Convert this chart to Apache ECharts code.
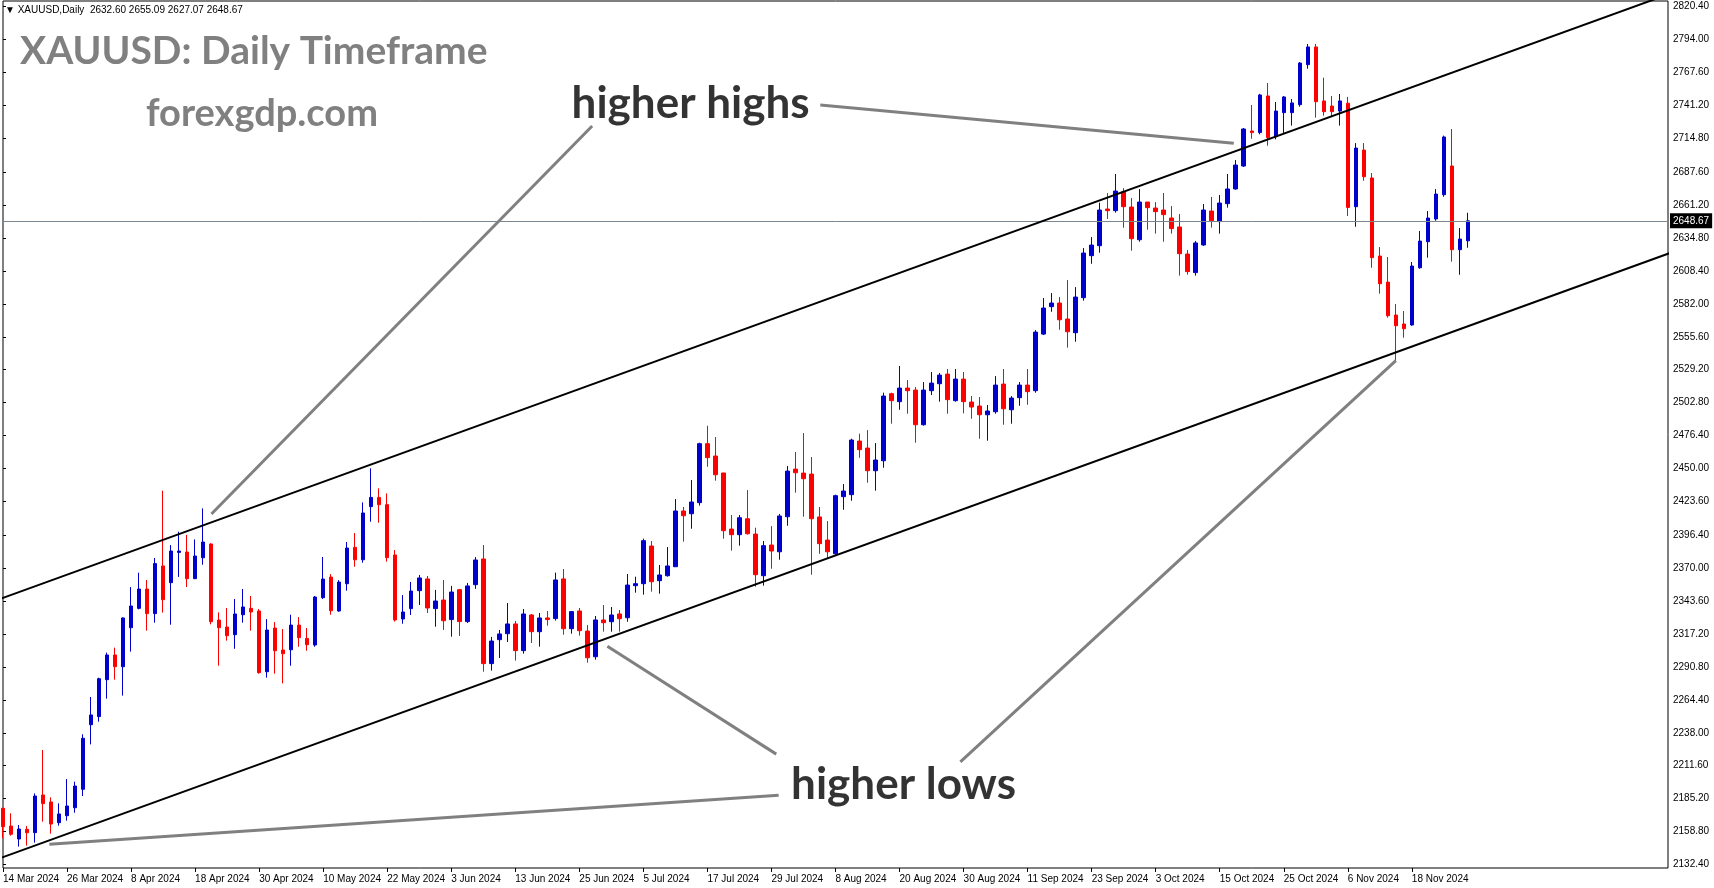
<!DOCTYPE html>
<html><head><meta charset="utf-8">
<script src="https://cdn.jsdelivr.net/npm/echarts@6/dist/echarts.min.js"></script>
<style>html,body{margin:0;padding:0;background:#fff;overflow:hidden}#c{width:1714px;height:888px}</style>
</head><body><div id="c"></div><script>
const symbol = 'XAUUSD';
const timeframe = 'Daily';
const year = 2024;
const tradingDays = [
  ['Mar', [14,15,18,19,20,21,22,25,26,27,28]],
  ['Apr', [1,2,3,4,5,8,9,10,11,12,15,16,17,18,19,22,23,24,25,26,29,30]],
  ['May', [1,2,3,6,7,8,9,10,13,14,15,16,17,20,21,22,23,24,27,28,29,30,31]],
  ['Jun', [3,4,5,6,7,10,11,12,13,14,17,18,19,20,21,24,25,26,27,28]],
  ['Jul', [1,2,3,4,5,8,9,10,11,12,15,16,17,18,19,22,23,24,25,26,29,30,31]],
  ['Aug', [1,2,5,6,7,8,9,12,13,14,15,16,19,20,21,22,23,26,27,28,29,30]],
  ['Sep', [2,3,4,5,6,9,10,11,12,13,16,17,18,19,20,23,24,25,26,27,30]],
  ['Oct', [1,2,3,4,7,8,9,10,11,14,15,16,17,18,21,22,23,24,25,28,29,30,31]],
  ['Nov', [1,4,5,6,7,8,11,12,13,14,15,18,19,20,21,22,25,26,27]]
];
const opens = [2177.4,2163.2,2152.8,2160.6,2157.9,2188.1,2182.5,2165.9,2171.5,2177.9,2192.7,2244.5,2251.0,2280.6,2300.4,2291.0,2322.3,2337.8,2353.3,2333.6,
2371.8,2358.4,2382.7,2383.0,2361.6,2378.4,2389.4,2328.4,2322.8,2316.7,2332.7,2337.8,2335.7,2287.0,2322.0,2304.4,2304.6,2324.4,2313.7,2308.4,
2346.4,2362.9,2335.7,2357.6,2386.7,2376.8,2419.4,2426.8,2421.0,2380.6,2329.3,2337.6,2352.0,2361.4,2337.6,2344.5,2328.8,2352.8,2327.2,2356.8,
2377.4,2293.5,2312.7,2317.5,2325.3,2303.9,2332.5,2319.1,2330.1,2329.6,2361.4,2321.5,2335.7,2319.6,2299.0,2328.5,2327.1,2333.3,2330.3,2356.0,
2357.6,2387.8,2360.0,2364.0,2371.2,2415.9,2413.7,2422.6,2469.9,2460.0,2446.4,2401.4,2396.9,2409.7,2397.4,2364.0,2388.6,2383.2,2411.3,2449.5,
2446.3,2445.5,2411.1,2392.6,2381.6,2427.4,2429.0,2472.0,2466.4,2448.2,2456.2,2510.0,2503.6,2514.5,2512.9,2485.1,2512.4,2518.0,2525.7,2504.4,
2521.7,2503.3,2500.1,2493.1,2495.5,2517.7,2497.1,2506.8,2516.9,2512.4,2557.8,2579.8,2582.7,2569.9,2558.9,2587.0,2620.7,2628.7,2658.1,2656.8,
2672.0,2659.7,2633.5,2663.7,2658.9,2657.3,2650.9,2643.7,2622.0,2607.1,2629.3,2656.5,2648.0,2662.4,2674.2,2692.6,2720.7,2719.4,2748.8,2716.2,
2735.4,2735.4,2741.8,2773.9,2788.1,2744.8,2740.7,2736.7,2743.0,2660.0,2705.4,2683.0,2620.4,2599.5,2573.1,2565.9,2565.1,2611.0,2631.9,2650.1,
2669.6,2692.6,2625.5,2632.60];
const closes = [2162.7,2156.6,2160.8,2157.9,2187.3,2181.2,2164.8,2172.9,2179.3,2195.3,2233.6,2252.3,2281.4,2300.4,2291.0,2330.1,2339.7,2353.3,2333.6,2373.7,
2344.8,2383.8,2383.8,2361.6,2379.8,2391.0,2327.1,2322.3,2315.9,2333.3,2338.9,2334.9,2286.2,2320.4,2303.8,2301.4,2324.4,2314.3,2308.7,2346.9,
2361.3,2335.9,2358.9,2386.2,2376.8,2414.3,2426.8,2421.0,2378.5,2328.5,2334.9,2351.7,2362.2,2338.1,2343.7,2327.9,2350.9,2327.2,2355.8,2376.6,
2293.5,2311.6,2317.3,2325.3,2303.9,2333.3,2319.1,2330.1,2328.8,2360.6,2321.5,2335.2,2319.9,2298.2,2328.5,2326.3,2332.5,2329.5,2356.5,2357.6,
2392.1,2359.2,2364.6,2371.8,2415.9,2412.1,2423.1,2469.9,2458.7,2445.0,2400.1,2396.9,2410.5,2397.7,2364.8,2388.1,2383.8,2411.9,2447.9,2446.6,
2441.8,2409.7,2389.7,2383.2,2428.2,2431.9,2472.8,2465.1,2448.2,2456.8,2508.1,2504.4,2514.5,2512.4,2485.1,2512.9,2518.5,2524.9,2505.2,2521.7,
2503.6,2499.3,2493.1,2496.1,2516.9,2497.9,2506.5,2516.9,2511.6,2559.4,2578.7,2582.7,2569.3,2559.7,2587.5,2622.8,2629.2,2657.3,2656.8,2672.5,
2660.0,2634.3,2663.7,2659.2,2656.0,2653.6,2642.4,2622.3,2607.9,2630.9,2657.3,2648.8,2662.9,2674.2,2693.4,2722.3,2719.4,2749.6,2715.4,2736.7,
2748.0,2743.2,2775.2,2788.1,2744.2,2736.2,2736.2,2744.8,2659.4,2707.0,2684.0,2619.1,2598.2,2572.5,2564.5,2562.1,2612.4,2632.4,2650.9,2670.1,
2715.9,2625.5,2634.0,2648.67];
const lows = [2153.4,2155.5,2146.7,2147.5,2149.9,2166.7,2157.1,2163.5,2167.5,2173.9,2187.3,2228.7,2246.9,2265.4,2280.6,2267.8,2303.1,2337.0,2319.9,2326.3,
2334.4,2324.7,2363.0,2354.9,2361.6,2372.8,2325.0,2291.8,2311.9,2305.4,2326.3,2319.9,2285.4,2282.2,2285.4,2277.6,2291.8,2307.0,2303.8,2307.0,
2345.3,2332.7,2335.1,2352.0,2371.2,2374.4,2407.3,2406.5,2375.3,2327.2,2325.5,2332.5,2340.5,2334.1,2323.1,2320.5,2315.1,2315.7,2326.1,2353.4,
2287.0,2287.9,2298.0,2310.8,2295.9,2301.5,2310.0,2307.1,2323.9,2328.0,2316.7,2317.5,2315.9,2294.2,2296.6,2319.1,2319.1,2319.1,2327.1,2350.4,
2348.8,2351.2,2349.6,2363.2,2371.2,2391.3,2401.7,2420.2,2451.4,2440.2,2393.7,2384.1,2388.1,2396.9,2355.2,2356.0,2369.6,2376.8,2404.1,2430.6,
2411.3,2364.8,2381.6,2378.4,2380.8,2416.9,2424.1,2458.6,2438.6,2432.2,2450.6,2485.9,2497.1,2493.9,2470.7,2484.3,2508.9,2503.6,2493.9,2503.6,
2494.2,2489.9,2473.9,2472.3,2493.9,2485.1,2485.9,2500.3,2501.1,2510.8,2557.0,2575.7,2561.3,2546.9,2551.7,2584.6,2614.2,2623.1,2650.1,2655.2,
2643.1,2624.7,2631.9,2641.5,2638.4,2631.9,2638.4,2604.7,2605.5,2604.7,2628.5,2643.2,2638.4,2659.2,2673.6,2691.8,2714.5,2718.0,2708.9,2714.0,
2718.6,2725.0,2740.2,2770.7,2731.4,2733.0,2732.2,2725.0,2652.5,2643.9,2680.8,2611.0,2590.2,2571.0,2536.4,2554.9,2564.5,2610.2,2619.1,2648.7,
2668.0,2615.9,2605.4,2627.07];
const highs = [2177.9,2173.4,2164.0,2163.2,2189.4,2224.2,2186.2,2181.4,2200.9,2198.8,2236.8,2266.7,2282.2,2302.3,2306.3,2330.6,2354.9,2366.4,2360.6,2378.2,
2432.2,2388.6,2399.3,2396.7,2393.1,2418.0,2390.0,2334.6,2338.1,2345.3,2353.3,2347.7,2337.3,2329.2,2326.8,2321.2,2332.7,2330.8,2322.0,2347.7,
2379.0,2365.3,2360.5,2391.0,2398.2,2422.8,2450.1,2434.1,2430.0,2384.6,2348.5,2359.0,2364.6,2363.8,2352.6,2360.6,2355.8,2353.4,2358.2,2379.0,
2388.6,2314.9,2320.5,2342.1,2327.7,2337.3,2333.3,2334.1,2335.7,2366.5,2369.4,2335.7,2338.1,2324.4,2331.7,2340.5,2338.9,2336.5,2365.4,2363.2,
2393.7,2391.8,2372.6,2387.0,2425.5,2419.1,2440.8,2470.7,2484.3,2475.2,2446.4,2412.7,2412.7,2432.7,2402.5,2391.8,2403.8,2413.5,2452.0,2463.2,
2478.4,2459.2,2419.1,2407.8,2429.0,2437.5,2473.9,2477.9,2480.8,2470.4,2510.8,2510.8,2532.2,2520.9,2515.3,2519.3,2527.4,2526.6,2529.8,2529.8,
2527.4,2508.1,2507.3,2500.9,2524.1,2529.8,2508.1,2519.3,2529.8,2561.0,2586.7,2590.7,2587.5,2601.1,2595.5,2626.8,2635.6,2663.2,2670.9,2686.2,
2674.9,2666.9,2674.1,2663.7,2663.7,2671.0,2660.5,2654.1,2625.2,2632.5,2662.1,2667.8,2669.4,2686.2,2697.4,2723.1,2741.6,2750.5,2759.2,2744.0,
2748.8,2746.4,2776.0,2790.5,2790.5,2763.5,2748.8,2750.4,2748.0,2711.0,2711.0,2687.0,2627.6,2619.6,2581.9,2576.3,2615.6,2640.5,2656.5,2674.1,
2717.0,2722.3,2642.9,2655.09];
const yTickLabels = ['2820.40','2794.00','2767.60','2741.20','2714.80','2687.60','2661.20','2634.80','2608.40','2582.00','2555.60','2529.20','2502.80','2476.40',
'2450.00','2423.60','2396.40','2370.00','2343.60','2317.20','2290.80','2264.40','2238.00','2211.60','2185.20','2158.80','2132.40'];
const lastPrice = 2648.67;

// annotation objects in (bar index, price) units
const channelUpper = [[-1, 2343.9], [209, 2832.6]];
const channelLower = [[-1, 2135.9], [209, 2624.6]];
const pointerLines = [
  [[73.6, 2724.7], [26.04, 2413.5]],
  [[102.1, 2741.5], [153.75, 2710.8]],
  [[96.6, 2220.9], [75.5, 2307.5]],
  [[96.9, 2188.0], [5.79, 2148.6]],
  [[119.6, 2214.6], [174.0, 2536.5]]
];
const annotationTexts = [
  {text: 'higher highs', at: [85.9, 2742.3]},
  {text: 'higher lows', at: [112.5, 2196.2]}
];

const categories = [];
tradingDays.forEach(([m, ds]) => ds.forEach(d => categories.push(d + ' ' + m + ' ' + year)));
const nBars = categories.length;
const totalSlots = 209;
const axisCats = categories.slice();
for (let i = nBars; i < totalSlots; i++) axisCats.push('_' + i);
const candleData = opens.map((o, i) => [o, closes[i], lows[i], highs[i]]);
const showIdx = (idx) => idx % 8 === 0 && idx < nBars;

const chart = echarts.init(document.getElementById('c'), null, {renderer: 'canvas'});
const series = [{
  type: 'candlestick',
  xAxisIndex: 0, yAxisIndex: 0,
  data: candleData,
  barWidth: 4,
  clip: true,
  itemStyle: {color: '#0000CC', color0: '#FF0000', borderColor: '#0000CC', borderColor0: '#FF0000', borderWidth: 1},
  markLine: {
    silent: true, symbol: ['none', 'none'], animation: false,
    lineStyle: {color: '#7d8790', width: 1, type: 'solid'},
    label: {show: true, position: 'end', distance: 2, formatter: lastPrice.toFixed(2), color: '#fff', backgroundColor: '#000',
      padding: [3, 3, 2, 3], fontSize: 10, fontFamily: 'Liberation Sans'},
    data: [{yAxis: lastPrice}]
  },
  z: 2
}];
[channelUpper, channelLower].forEach(seg => series.push({
  type: 'line', xAxisIndex: 1, yAxisIndex: 0, data: seg, symbol: 'none', silent: true, clip: true,
  lineStyle: {color: '#000', width: 2}, z: 5
}));
pointerLines.forEach(seg => series.push({
  type: 'line', xAxisIndex: 1, yAxisIndex: 0, data: seg, symbol: 'none', silent: true, clip: true,
  lineStyle: {color: '#808080', width: 3}, z: 5
}));
series.push({
  type: 'scatter', xAxisIndex: 1, yAxisIndex: 0, symbolSize: 1, silent: true,
  itemStyle: {color: 'rgba(0,0,0,0)'},
  data: annotationTexts.map(a => ({value: a.at, name: a.text})),
  label: {show: true, position: 'inside', formatter: p => p.name, color: '#000', fontSize: 44, fontWeight: 'bold', fontFamily: 'Lato'},
  z: 6
});

const last = candleData[nBars - 1];
chart.setOption({
  animation: false,
  backgroundColor: '#fff',
  textStyle: {fontFamily: 'Liberation Sans'},
  grid: {left: 2, right: 46, top: 1, bottom: 20, show: true, borderColor: '#000', borderWidth: 1, backgroundColor: '#fff'},
  xAxis: [{
    type: 'category', data: axisCats, boundaryGap: false,
    axisLine: {show: false},
    axisTick: {show: true, interval: showIdx, length: 4, lineStyle: {color: '#000'}},
    axisLabel: {interval: showIdx, align: 'left', margin: 6, color: '#000', fontSize: 10, fontFamily: 'Liberation Sans'},
    splitLine: {show: false}
  }, {
    type: 'value', min: 0, max: totalSlots - 1, show: false, position: 'top'
  }],
  yAxis: [{
    type: 'value', position: 'right', min: 2129.55, max: 2824.97, scale: true,
    axisLine: {show: false},
    axisTick: {show: true, customValues: yTickLabels.map(Number), length: 3, lineStyle: {color: '#000'}},
    axisLabel: {customValues: yTickLabels.map(Number), formatter: v => v.toFixed(2), margin: 5, color: '#000', fontSize: 10, fontFamily: 'Liberation Sans'},
    splitLine: {show: false}
  }],
  graphic: [
    {type: 'text', left: 5, top: 5, style: {text: '\u25BC ' + symbol + ',' + timeframe + '  ' + [last[0], last[3], last[2], last[1]].map(v => v.toFixed(2)).join(' '),
      fill: '#000', font: '10px "Liberation Sans"'}, z: 10},
    {type: 'text', left: 20, top: 32, style: {text: symbol + ': ' + timeframe + ' Timeframe', fill: '#808080', font: 'bold 39px Lato'}, z: 10},
    {type: 'text', left: 146, top: 95, style: {text: 'forexgdp.com', fill: '#808080', font: 'bold 38px Lato'}, z: 10}
  ],
  series: series
});
</script></body></html>
